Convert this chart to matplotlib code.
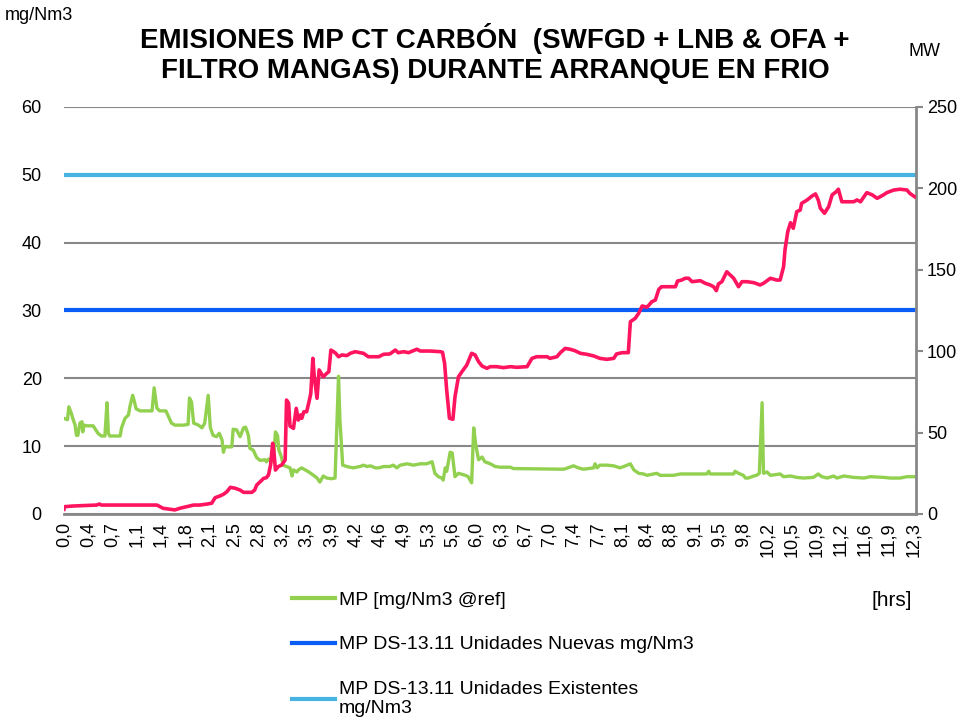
import matplotlib
matplotlib.use("Agg")
import matplotlib.pyplot as plt
from matplotlib.lines import Line2D

plt.rcParams["font.family"] = ["Liberation Sans", "DejaVu Sans"]

# ─── MP emissions [mg/Nm3 @ref] ───────────────────────────────────────────────
mp_hrs = [0.00, 0.05, 0.07, 0.10, 0.13, 0.16, 0.18, 0.20, 0.23, 0.26, 0.27, 0.29,
          0.33, 0.42, 0.49, 0.54, 0.59, 0.62, 0.64, 0.66, 0.81, 0.83, 0.88, 0.93,
          0.95, 0.99, 1.01, 1.04, 1.10, 1.27, 1.30, 1.34, 1.38, 1.47, 1.51, 1.55,
          1.60, 1.72, 1.79, 1.81, 1.84, 1.87, 1.94, 1.99, 2.03, 2.08, 2.11, 2.15,
          2.20, 2.24, 2.28, 2.30, 2.32, 2.42, 2.44, 2.49, 2.54, 2.59, 2.62, 2.66,
          2.68, 2.73, 2.78, 2.83, 2.90, 2.92, 2.95, 3.00, 3.03, 3.05, 3.08, 3.10,
          3.14, 3.16, 3.21, 3.26, 3.29, 3.31, 3.36, 3.38, 3.43, 3.48, 3.53, 3.60,
          3.65, 3.69, 3.74, 3.79, 3.86, 3.91, 3.96, 3.98, 4.02, 4.08, 4.17, 4.27,
          4.32, 4.37, 4.42, 4.49, 4.54, 4.61, 4.70, 4.75, 4.80, 4.85, 4.95, 5.04,
          5.14, 5.23, 5.31, 5.35, 5.40, 5.45, 5.47, 5.50, 5.52, 5.57, 5.60, 5.64,
          5.69, 5.79, 5.83, 5.88, 5.91, 5.94, 5.98, 6.03, 6.07, 6.15, 6.22, 6.29,
          6.44, 6.48, 7.21, 7.35, 7.42, 7.49, 7.64, 7.66, 7.69, 7.73, 7.83, 7.93,
          8.02, 8.10, 8.17, 8.22, 8.29, 8.36, 8.41, 8.55, 8.60, 8.79, 8.89, 9.27,
          9.30, 9.32, 9.66, 9.68, 9.73, 9.80, 9.83, 9.87, 9.95, 9.99, 10.03, 10.07,
          10.09, 10.14, 10.19, 10.33, 10.38, 10.48, 10.57, 10.67, 10.81, 10.88,
          10.93, 11.01, 11.10, 11.15, 11.25, 11.39, 11.54, 11.63, 11.82, 11.92,
          12.06, 12.16, 12.26]
mp_mg = [14.1, 13.9, 15.8, 15.0, 14.0, 13.1, 11.6, 11.6, 13.4, 13.6, 12.1, 13.1,
         13.0, 13.0, 11.9, 11.5, 11.5, 16.4, 11.9, 11.5, 11.5, 12.7, 14.1, 14.6,
         15.8, 17.5, 16.8, 15.5, 15.2, 15.2, 18.6, 15.6, 15.2, 15.2, 14.3, 13.4,
         13.1, 13.1, 13.2, 17.1, 16.5, 13.4, 13.1, 12.7, 13.4, 17.5, 12.8, 11.6,
         11.4, 11.9, 10.9, 9.1, 9.9, 9.9, 12.5, 12.4, 11.4, 12.7, 12.8, 11.6,
         9.7, 9.4, 8.3, 7.9, 8.0, 7.7, 8.1, 7.7, 9.1, 12.1, 11.6, 9.4,
         8.3, 7.2, 7.0, 6.8, 5.6, 6.5, 6.2, 6.5, 6.8, 6.5, 6.2, 5.7,
         5.3, 4.7, 5.6, 5.3, 5.2, 5.3, 20.3, 13.9, 7.2, 7.0, 6.8, 7.0,
         7.2, 7.0, 7.1, 6.8, 6.8, 7.0, 7.0, 7.2, 6.8, 7.2, 7.4, 7.2,
         7.4, 7.4, 7.7, 6.0, 5.5, 5.3, 5.0, 6.8, 6.3, 9.1, 9.0, 5.5,
         6.0, 5.7, 5.5, 4.6, 12.7, 10.2, 8.0, 8.4, 7.7, 7.4, 7.0, 6.9,
         6.9, 6.7, 6.6, 7.1, 6.8, 6.6, 6.8, 7.4, 6.8, 7.2, 7.2, 7.1,
         6.8, 7.1, 7.4, 6.5, 6.0, 5.9, 5.7, 6.0, 5.7, 5.7, 5.9, 5.9,
         6.3, 5.9, 5.9, 6.3, 6.0, 5.7, 5.3, 5.3, 5.6, 5.7, 6.0, 16.4,
         6.0, 6.2, 5.7, 5.9, 5.5, 5.6, 5.4, 5.3, 5.4, 5.9,
         5.5, 5.3, 5.6, 5.3, 5.6, 5.4, 5.3, 5.5, 5.4, 5.3,
         5.3, 5.5, 5.5]

# ─── Unit load [MW] ───────────────────────────────────────────────────────────
mw_hrs = [0.00, 0.01, 0.13, 0.47, 0.51, 0.54, 1.34, 1.43, 1.53, 1.60, 1.67, 1.77,
          1.87, 1.96, 2.06, 2.13, 2.18, 2.25, 2.30, 2.35, 2.40, 2.47, 2.54, 2.59,
          2.71, 2.75, 2.78, 2.83, 2.88, 2.92, 2.95, 2.98, 3.01, 3.03, 3.05, 3.09,
          3.14, 3.19, 3.21, 3.24, 3.26, 3.31, 3.35, 3.38, 3.41, 3.43, 3.46, 3.50,
          3.54, 3.56, 3.59, 3.61, 3.65, 3.68, 3.71, 3.74, 3.79, 3.82, 3.85, 3.89,
          3.92, 3.96, 4.01, 4.08, 4.13, 4.20, 4.32, 4.39, 4.54, 4.61, 4.70, 4.78,
          4.82, 4.90, 4.97, 5.04, 5.09, 5.14, 5.28, 5.43, 5.46, 5.49, 5.52, 5.56,
          5.61, 5.64, 5.69, 5.74, 5.81, 5.88, 5.93, 5.98, 6.03, 6.10, 6.15, 6.24,
          6.34, 6.44, 6.53, 6.68, 6.75, 6.82, 6.97, 7.01, 7.11, 7.16, 7.23, 7.30,
          7.37, 7.45, 7.54, 7.64, 7.73, 7.83, 7.93, 7.97, 8.05, 8.14, 8.17, 8.24,
          8.29, 8.34, 8.41, 8.48, 8.53, 8.58, 8.62, 8.82, 8.85, 8.91, 8.96, 9.01,
          9.06, 9.18, 9.25, 9.32, 9.37, 9.41, 9.44, 9.49, 9.56, 9.61, 9.66, 9.73,
          9.78, 9.85, 9.95, 10.04, 10.09, 10.19, 10.28, 10.33, 10.38, 10.40, 10.44,
          10.48, 10.52, 10.57, 10.62, 10.64, 10.72, 10.79, 10.84, 10.88, 10.91,
          10.97, 11.03, 11.08, 11.14, 11.17, 11.22, 11.39, 11.44, 11.49, 11.58,
          11.66, 11.73, 11.82, 11.87, 11.97, 12.06, 12.16, 12.20, 12.27]
mw_load = [2.9, 4.5, 4.9, 5.5, 6.1, 5.5, 5.5, 3.5, 2.9, 2.5, 3.5, 4.5,
           5.5, 5.5, 6.1, 6.6, 10.0, 11.1, 12.1, 13.7, 16.4, 15.8, 14.7, 13.3,
           13.3, 14.7, 17.8, 19.8, 21.9, 22.3, 24.0, 30.1, 43.4, 37.3, 27.0, 29.1,
           30.1, 33.2, 70.0, 68.0, 54.0, 52.6, 64.9, 57.7, 60.8, 58.8, 62.8, 62.8,
           70.0, 74.1, 95.6, 84.3, 71.1, 88.5, 86.4, 84.3, 86.4, 87.4, 100.7, 99.7,
           98.7, 96.6, 97.7, 97.3, 98.7, 99.7, 98.7, 96.6, 96.6, 98.1, 98.3, 100.7,
           99.1, 99.7, 99.1, 100.3, 101.2, 100.1, 100.1, 99.7, 99.3, 92.6, 76.2, 58.8,
           58.2, 72.0, 84.3, 87.4, 91.5, 98.7, 97.7, 93.6, 90.9, 89.5, 90.5, 90.5,
           89.9, 90.5, 90.1, 90.5, 95.6, 96.6, 96.6, 95.6, 96.6, 99.1, 101.7, 101.2,
           100.3, 98.7, 98.1, 97.1, 95.6, 95.0, 95.6, 98.3, 99.1, 99.1, 118.1, 120.2,
           123.3, 127.8, 127.0, 130.4, 131.4, 138.0, 139.6, 139.6, 143.1, 143.7, 144.8, 144.8,
           142.7, 143.3, 141.7, 140.7, 139.6, 137.2, 141.3, 142.7, 148.8, 146.8, 144.8, 139.6,
           142.7, 142.7, 142.1, 140.7, 141.7, 144.8, 143.7, 143.7, 151.9, 162.2, 173.4,
           178.9, 175.5, 185.7, 186.7, 190.8, 192.9, 195.3, 196.6, 192.9, 187.8,
           184.7, 188.8, 196.0, 198.0, 199.5, 191.8, 191.8, 192.9, 191.8, 197.4,
           196.0, 193.9, 196.0, 197.4, 199.0, 199.5, 199.0, 197.0, 194.9]

# DS-13.11 limits [mg/Nm3]
limit_new = 30
limit_existing = 50

# x axis: a label every 21 minutes
tick_hrs = [k * 0.35 for k in range(36)]
tick_labels = ["0,0", "0,4", "0,7", "1,1", "1,4", "1,8", "2,1", "2,5", "2,8",
               "3,2", "3,5", "3,9", "4,2", "4,6", "4,9", "5,3", "5,6", "6,0",
               "6,3", "6,7", "7,0", "7,4", "7,7", "8,1", "8,4", "8,8", "9,1",
               "9,5", "9,8", "10,2", "10,5", "10,9", "11,2", "11,6", "11,9", "12,3"]

c_mp = "#92D050"
c_new = "#0A5EF5"
c_exist = "#46B3E1"
c_mw = "#FF1460"
c_grid = "#888888"

fig = plt.figure(figsize=(9.68, 7.23), dpi=100)
ax = fig.add_axes([64 / 968, 209 / 723, 852 / 968, 407 / 723])
ax2 = ax.twinx()

ax.plot(mp_hrs, mp_mg, color=c_mp, lw=2.4, zorder=3)
ax.axhline(limit_new, color=c_new, lw=3, zorder=3)
ax.axhline(limit_existing, color=c_exist, lw=3, zorder=3)
ax2.plot(mw_hrs, mw_load, color=c_mw, lw=2.6, zorder=3)

ax.set_xlim(0, 12.29)
ax.set_ylim(0, 60)
ax2.set_ylim(0, 250)
ax.set_yticks(range(0, 61, 10))
ax2.set_yticks(range(0, 251, 50))
ax.set_xticks(tick_hrs)
ax.set_xticklabels(tick_labels, rotation=90, fontsize=13)

ax.yaxis.grid(True, color=c_grid, lw=1.5)
ax.set_axisbelow(True)
ax.tick_params(axis="y", length=0, pad=16, labelsize=13)
ax.tick_params(axis="x", length=0, pad=6)
ax2.tick_params(axis="y", length=5, width=1.5, color=c_grid, pad=3, labelsize=13)

for side in ["left", "top", "right"]:
    ax.spines[side].set_visible(False)
for side in ["left", "top", "bottom"]:
    ax2.spines[side].set_visible(False)
ax.spines["bottom"].set_color(c_grid)
ax.spines["bottom"].set_linewidth(2)
ax2.spines["right"].set_color(c_grid)
ax2.spines["right"].set_linewidth(2)

fig.text(495 / 968, 1 - 53 / 723,
         "EMISIONES MP CT CARBÓN  (SWFGD + LNB & OFA +\nFILTRO MANGAS) DURANTE ARRANQUE EN FRIO",
         ha="center", va="center", fontsize=20, fontweight="bold", linespacing=1.2)
fig.text(5 / 968, 1 - 15 / 723, "mg/Nm3", ha="left", va="center", fontsize=13)
fig.text(925 / 968, 1 - 52 / 723, "MW", ha="center", va="center", fontsize=13)
fig.text(892 / 968, 1 - 601 / 723, "[hrs]", ha="center", va="center", fontsize=15)

handles = [
    Line2D([], [], color=c_mp, lw=3),
    Line2D([], [], color=c_new, lw=3),
    Line2D([], [], color=c_exist, lw=3),
]
labels = [
    "MP [mg/Nm3 @ref]",
    "MP DS-13.11 Unidades Nuevas mg/Nm3",
    "MP DS-13.11 Unidades Existentes\nmg/Nm3",
]
fig.legend(handles, labels, loc="upper left",
           bbox_to_anchor=(292 / 968, 1 - 591 / 723),
           frameon=False, fontsize=14, labelspacing=1.4,
           handlelength=2.2, handletextpad=0.2, borderpad=0, borderaxespad=0)

fig.savefig("out.png", dpi=100)
